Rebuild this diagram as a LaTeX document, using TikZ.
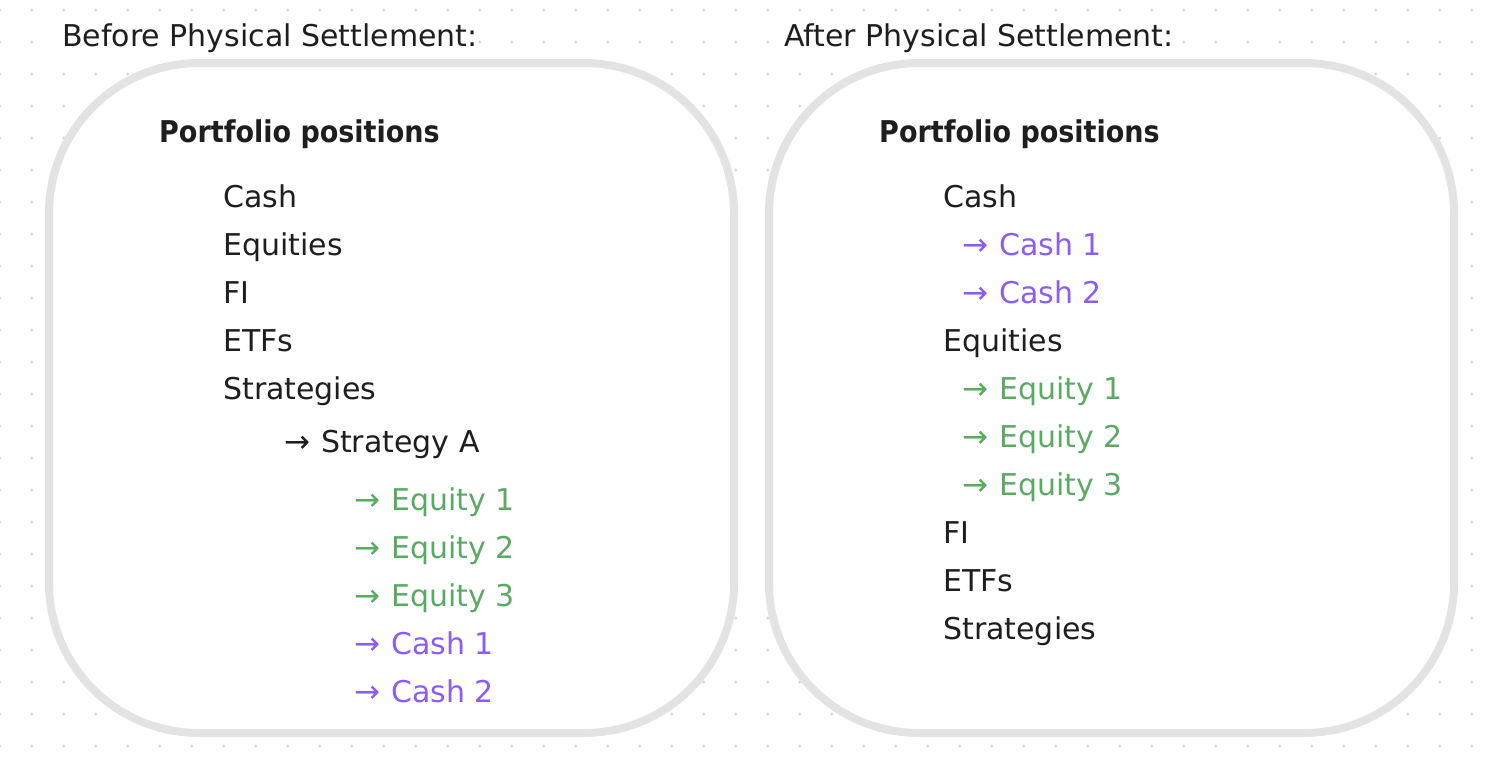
\documentclass[tikz,border=0pt]{standalone}
\usepackage{fontspec}
\setmainfont{DejaVu Sans}
\newfontfamily\headbold[FakeStretch=0.9]{DejaVu Sans}
\definecolor{ink}{HTML}{1E1E1E}
\definecolor{grn}{HTML}{5AAA64}
\definecolor{prp}{HTML}{8B5CF6}
\definecolor{frame}{HTML}{E3E3E3}
\definecolor{dotc}{HTML}{D9D9D9}
\newcommand{\fsz}{\fontsize{30}{36}\selectfont}
\newcommand{\arr}{{\fontsize{31}{36}\selectfont →}\hspace{11pt}}
\tikzset{
  txt/.style={anchor=base west, inner sep=0pt, font=\fsz, text=ink},
  head/.style={txt, fill=white},
  title/.style={txt, font=\fsz\headbold\bfseries},
  gitem/.style={txt, text=grn},
  pitem/.style={txt, text=prp},
  panel/.style={draw=frame, line width=8pt, fill=white, rounded corners=150pt,
    minimum width=685pt, minimum height=670pt, inner sep=0pt}
}
\begin{document}
\begin{tikzpicture}[x=1pt,y=-1pt]
\useasboundingbox (0,0) rectangle (1488,764);
\fill[white] (0,0) rectangle (1488,764);
\foreach \i in {0,...,46}{
  \foreach \j in {0,...,23}{
    \fill[dotc] (32*\i-0.3,10+32*\j) circle[radius=1.7pt];
  }
}
% panels
\node[panel] (before) at (391.5,398) {};
\node[panel] (after) at (1111.5,398) {};
% headers
\node[head] (hbefore) at (62,46) {Before Physical Settlement:};
\node[head] (hafter) at (784,46) {After Physical Settlement:};
% left panel
\node[title] (tleft) at (159,142) {Portfolio positions};
\node[txt] (lcash) at (223,207) {Cash};
\node[txt] (leq) at (223,255) {Equities};
\node[txt] (lfi) at (223,303) {FI};
\node[txt] (letf) at (223,351) {ETFs};
\node[txt] (lstr) at (223,399) {Strategies};
\node[txt] (lstra) at (284,452) {\arr Strategy A};
\node[gitem] (le1) at (354,510) {\arr Equity 1};
\node[gitem] (le2) at (354,558) {\arr Equity 2};
\node[gitem] (le3) at (354,606) {\arr Equity 3};
\node[pitem] (lc1) at (354,654) {\arr Cash 1};
\node[pitem] (lc2) at (354,702) {\arr Cash 2};
% right panel
\node[title] (tright) at (879,142) {Portfolio positions};
\node[txt] (rcash) at (943,207) {Cash};
\node[pitem] (rc1) at (962,255) {\arr Cash 1};
\node[pitem] (rc2) at (962,303) {\arr Cash 2};
\node[txt] (req) at (943,351) {Equities};
\node[gitem] (re1) at (962,399) {\arr Equity 1};
\node[gitem] (re2) at (962,447) {\arr Equity 2};
\node[gitem] (re3) at (962,495) {\arr Equity 3};
\node[txt] (rfi) at (943,543) {FI};
\node[txt] (retf) at (943,591) {ETFs};
\node[txt] (rstr) at (943,639) {Strategies};
\end{tikzpicture}
\end{document}
